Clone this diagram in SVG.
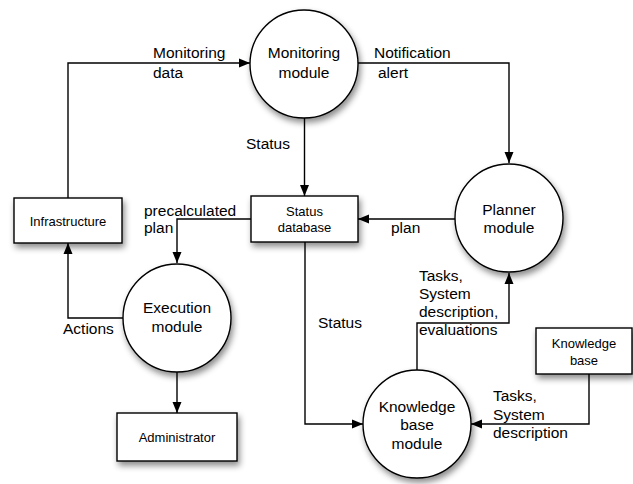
<svg xmlns="http://www.w3.org/2000/svg" width="633" height="484" viewBox="0 0 633 484">
<style>
text{font-family:"Liberation Sans",Arial,Helvetica,sans-serif;fill:#000}
.lg{font-size:15.5px}
.sm{font-size:13px}
.c{text-anchor:middle}
.node{fill:#fff;stroke:#000;stroke-width:1.4;filter:url(#sh)}
.edge{fill:none;stroke:#000;stroke-width:1.4;marker-end:url(#ah)}
</style>
<defs>
<filter id="sh" x="-20%" y="-20%" width="150%" height="160%">
<feDropShadow dx="2" dy="4" stdDeviation="3" flood-color="#000" flood-opacity="0.45"/>
</filter>
<marker id="ah" markerUnits="userSpaceOnUse" markerWidth="12" markerHeight="10" refX="11" refY="5" orient="auto">
<path d="M0,0.5 L11,5 L0,9.5 z" fill="#000"/>
</marker>
</defs>
<g id="connectors">
<path class="edge" d="M68,198 V63 H250"/>
<path class="edge" d="M358,63 H509 V163"/>
<path class="edge" d="M304.5,118 V196"/>
<path class="edge" d="M455,219 H358"/>
<path class="edge" d="M251,219 H177 V263"/>
<path class="edge" d="M123,318 H68 V243"/>
<path class="edge" d="M177,372 V413"/>
<path class="edge" d="M305,242 V424 H363"/>
<path class="edge" d="M417,370 V323 H509 V273"/>
<path class="edge" d="M589,374 V424 H471"/>
</g>
<g id="labels">
<text class="lg" x="153" y="58">Monitoring</text>
<text class="lg" x="153" y="78">data</text>
<text class="lg" x="374" y="58">Notification</text>
<text class="lg" x="378" y="78">alert</text>
<text class="lg" x="246" y="149">Status</text>
<text class="lg" x="144" y="216">precalculated</text>
<text class="lg" x="144" y="233">plan</text>
<text class="lg" x="391" y="233">plan</text>
<text class="lg" x="63" y="334">Actions</text>
<text class="lg" x="318" y="328">Status</text>
<text class="lg" x="419" y="281">Tasks,</text>
<text class="lg" x="419" y="299">System</text>
<text class="lg" x="419" y="317">description,</text>
<text class="lg" x="419" y="335">evaluations</text>
<text class="lg" x="493" y="401">Tasks,</text>
<text class="lg" x="493" y="420">System</text>
<text class="lg" x="493" y="438">description</text>
</g>
<g id="monitoring">
<circle class="node" cx="304" cy="64" r="54"/>
<text class="lg c" x="304" y="58">Monitoring</text>
<text class="lg c" x="304" y="78">module</text>
</g>
<g id="planner">
<circle class="node" cx="509" cy="218" r="54"/>
<text class="lg c" x="509" y="215">Planner</text>
<text class="lg c" x="509" y="233">module</text>
</g>
<g id="execution">
<circle class="node" cx="177" cy="318" r="54"/>
<text class="lg c" x="177" y="313">Execution</text>
<text class="lg c" x="177" y="332">module</text>
</g>
<g id="kbmodule">
<circle class="node" cx="417" cy="424" r="54"/>
<text class="lg c" x="417" y="412">Knowledge</text>
<text class="lg c" x="417" y="430">base</text>
<text class="lg c" x="417" y="449">module</text>
</g>
<g id="statusdb">
<rect class="node" x="251" y="196" width="107" height="46"/>
<text class="sm c" x="304.5" y="216">Status</text>
<text class="sm c" x="304.5" y="232">database</text>
</g>
<g id="infrastructure">
<rect class="node" x="14" y="198" width="108" height="45"/>
<text class="sm c" x="68" y="226">Infrastructure</text>
</g>
<g id="administrator">
<rect class="node" x="117" y="413" width="120" height="48"/>
<text class="sm c" x="177" y="441.5">Administrator</text>
</g>
<g id="kb">
<rect class="node" x="536" y="328" width="96" height="46"/>
<text class="sm c" x="584" y="347.5">Knowledge</text>
<text class="sm c" x="584" y="364.5">base</text>
</g>
</svg>
